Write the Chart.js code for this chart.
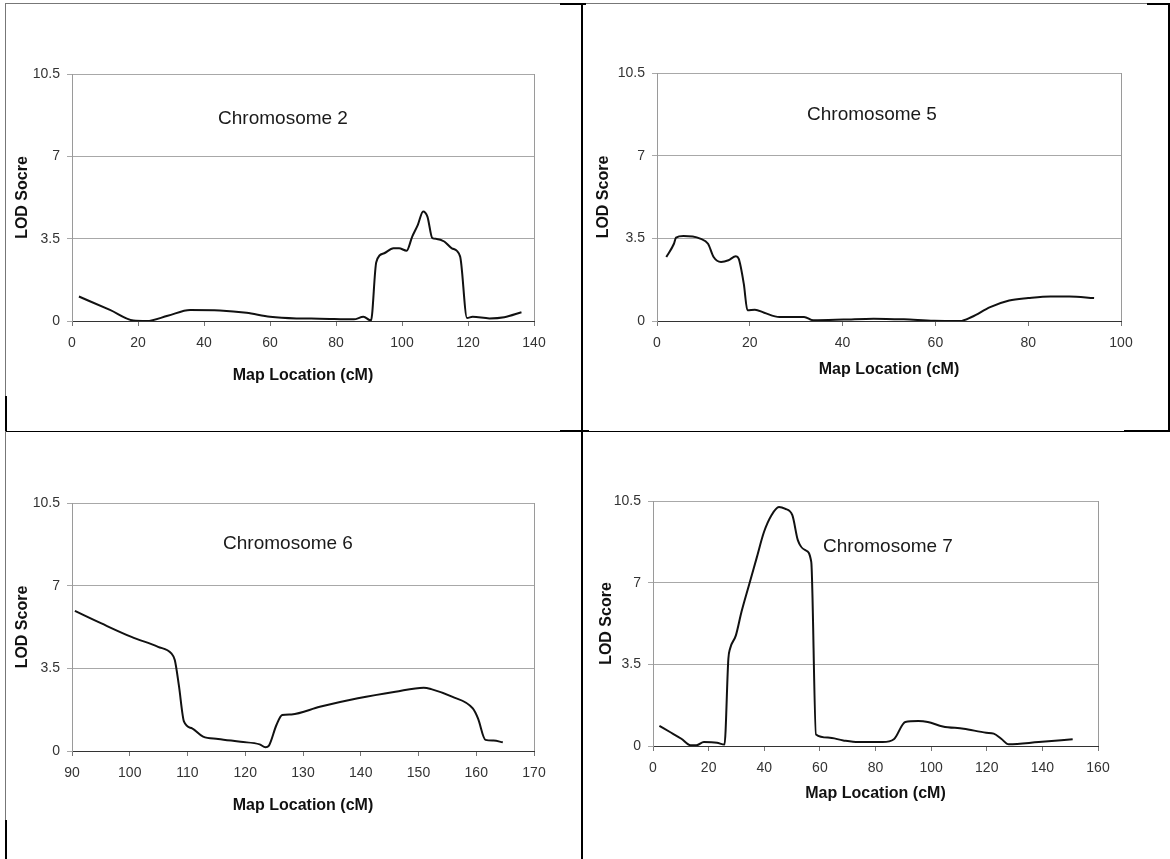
<!DOCTYPE html>
<html><head><meta charset="utf-8">
<script src="https://cdn.jsdelivr.net/npm/chart.js@4.4.1/dist/chart.umd.min.js"></script>
<style>
html,body{margin:0;padding:0;background:#fff;}
#page{position:relative;width:1170px;height:859px;overflow:hidden;font-family:"Liberation Sans",Arial,sans-serif;}
.panel{position:absolute;}
.lbl{position:absolute;font-size:19px;line-height:1;color:#1a1a1a;white-space:nowrap;transform:translate(-50%,-50%);}
.ln{position:absolute;background:#000;}
.gl{position:absolute;background:#777;}
</style></head><body>
<div id="page">
  <canvas id="c2" class="panel" width="583" height="430" style="left:0;top:0"></canvas>
  <canvas id="c5" class="panel" width="587" height="430" style="left:583px;top:0"></canvas>
  <canvas id="c6" class="panel" width="583" height="429" style="left:0;top:430px"></canvas>
  <canvas id="c7" class="panel" width="587" height="429" style="left:583px;top:430px"></canvas>

  <div class="lbl" style="left:283px;top:117px">Chromosome 2</div>
  <div class="lbl" style="left:872px;top:113px">Chromosome 5</div>
  <div class="lbl" style="left:288px;top:542px">Chromosome 6</div>
  <div class="lbl" style="left:888px;top:545px">Chromosome 7</div>

  <!-- table borders -->
  <div class="gl" style="left:6px;top:3px;width:554px;height:1px"></div>
  <div class="ln" style="left:560px;top:3px;width:26px;height:2px"></div>
  <div class="gl" style="left:586px;top:3px;width:561px;height:1px"></div>
  <div class="ln" style="left:1147px;top:3px;width:23px;height:2px"></div>
  <div class="ln" style="left:1168px;top:3px;width:2px;height:428px"></div>
  <div class="gl" style="left:5px;top:3px;width:1px;height:393px"></div>
  <div class="ln" style="left:5px;top:396px;width:2px;height:35px"></div>
  <div class="gl" style="left:5px;top:431px;width:1px;height:389px"></div>
  <div class="ln" style="left:5px;top:820px;width:2px;height:39px"></div>
  <div class="ln" style="left:581px;top:3px;width:2px;height:856px"></div>
  <div class="ln" style="left:6px;top:431px;width:1164px;height:1px"></div>
  <div class="ln" style="left:560px;top:430px;width:29px;height:2px"></div>
  <div class="ln" style="left:1124px;top:430px;width:46px;height:2px"></div>
</div>
<script>
// ---- data ----
const yTicks = [0, 3.5, 7, 10.5];

const chr2X = [2.1, 11.5, 18.6, 22.6, 29, 35.8, 44.8, 52.9, 60, 68, 75, 85.4, 88.3, 90.6, 92.2, 94.6, 97.4, 99.1, 101.4, 103.1, 104.8, 106.4, 107.7, 109.2, 110.5, 112.8, 115.1, 117.6, 119.7, 121.4, 126.5, 131, 136.2];
const chr2Y = [1.04, 0.47, 0.02, 0.0, 0.22, 0.47, 0.45, 0.35, 0.18, 0.11, 0.1, 0.07, 0.18, 0.02, 2.5, 2.88, 3.09, 3.09, 2.99, 3.59, 4.09, 4.66, 4.44, 3.52, 3.49, 3.38, 3.09, 2.75, 0.13, 0.18, 0.11, 0.16, 0.37];
const chr2Ticks = [0, 20, 40, 60, 80, 100, 120, 140];

const chr5X = [2.0, 3.65, 4.1, 5.7, 7.7, 9.3, 11.0, 12.2, 13.8, 15.4, 17.0, 17.6, 18.7, 19.5, 21.1, 23.1, 26.4, 31.7, 33.7, 40.2, 46.7, 53.2, 59.7, 65.3, 67.8, 71.8, 75.9, 80, 84.8, 88.9, 94.2];
const chr5Y = [2.71, 3.27, 3.53, 3.6, 3.58, 3.49, 3.27, 2.71, 2.5, 2.57, 2.74, 2.64, 1.58, 0.45, 0.48, 0.35, 0.17, 0.17, 0.03, 0.06, 0.1, 0.07, 0.01, 0, 0.17, 0.59, 0.87, 0.97, 1.04, 1.04, 0.97];
const chr5Ticks = [0, 20, 40, 60, 80, 100];

const chr6X = [90.5, 95.1, 100.3, 104.9, 107.2, 107.8, 108.5, 109.4, 110.8, 112.7, 115.3, 119.2, 122.5, 123.5, 124.1, 125.4, 126.4, 128, 132.9, 139.5, 146, 150.9, 152.2, 155.8, 159.4, 160.3, 161.6, 163, 164.6];
const chr6Y = [5.93, 5.40, 4.83, 4.41, 4.13, 3.85, 2.79, 1.24, 0.96, 0.61, 0.51, 0.39, 0.28, 0.16, 0.23, 1.10, 1.52, 1.55, 1.87, 2.23, 2.51, 2.68, 2.62, 2.30, 1.80, 1.38, 0.47, 0.44, 0.37];
const chr6Ticks = [90, 100, 110, 120, 130, 140, 150, 160, 170];

const chr7X = [2.3, 6.1, 10.2, 13.5, 15.6, 18.3, 23, 25.7, 27.1, 27.7, 29.8, 31.8, 34.5, 37.2, 39.9, 42.6, 45.3, 47.4, 50.1, 52.1, 54.8, 56.9, 58.6, 62.9, 68.4, 73.8, 82.6, 86.6, 90.7, 95.4, 98.8, 104.2, 111.7, 119.8, 122.5, 125.2, 127.9, 138.7, 150.9];
const chr7Y = [0.86, 0.6, 0.31, 0.03, 0.03, 0.17, 0.14, 0.06, 3.74, 4.17, 4.74, 5.74, 6.89, 8.03, 9.17, 9.89, 10.24, 10.17, 9.89, 8.81, 8.39, 7.89, 0.49, 0.36, 0.24, 0.17, 0.17, 0.29, 1.03, 1.07, 1.03, 0.84, 0.74, 0.57, 0.53, 0.31, 0.07, 0.17, 0.29];
const chr7Ticks = [0, 20, 40, 60, 80, 100, 120, 140, 160];

const xTitle = 'Map Location (cM)';
const yTitles = ['LOD Socre', 'LOD Score', 'LOD Score', 'LOD Score'];

// ---- drawing ----
const FAM = "'Liberation Sans', Arial, Helvetica, sans-serif";
const frame = {
  id: 'frame',
  beforeDatasetsDraw(c) {
    const a = c.chartArea, ctx = c.ctx;
    ctx.save();
    ctx.strokeStyle = '#9a9a9a'; ctx.lineWidth = 1;
    ctx.beginPath();
    ctx.moveTo(Math.round(a.right) + 0.5, a.top);
    ctx.lineTo(Math.round(a.right) + 0.5, a.bottom);
    ctx.stroke();
    ctx.restore();
  }
};

function build(id, xs, ys, xTicks, yTitle, L) {
  const pts = xs.map((x, i) => ({x: x, y: ys[i]}));
  new Chart(document.getElementById(id), {
    type: 'scatter',
    data: {datasets: [{data: pts, showLine: true, borderColor: '#111', borderWidth: 2,
      pointRadius: 0, cubicInterpolationMode: 'monotone', fill: false}]},
    options: {
      responsive: false, animation: false, devicePixelRatio: 1,
      events: [],
      plugins: {legend: {display: false}, tooltip: {enabled: false}},
      layout: {padding: {left: 0, right: L.w - L.right, top: L.top, bottom: L.h - L.xBottom}},
      scales: {
        x: {
          type: 'linear', min: xTicks[0], max: xTicks[xTicks.length - 1],
          afterBuildTicks: s => { s.ticks = xTicks.map(v => ({value: v})); },
          ticks: {font: {size: 14, family: FAM}, color: '#333', padding: 9, maxRotation: 0, autoSkip: false,
                  callback: v => String(v)},
          grid: {drawOnChartArea: false, drawTicks: true, tickLength: 5, color: '#777'},
          border: {color: '#333', width: 1},
          title: {display: true, text: xTitle, font: {size: 16, weight: 'bold', family: FAM}, color: '#111', padding: 0},
          afterFit: s => { s.height = L.xBottom - L.bottom; }
        },
        y: {
          type: 'linear', min: 0, max: 10.5,
          afterBuildTicks: s => { s.ticks = yTicks.map(v => ({value: v})); },
          ticks: {font: {size: 14, family: FAM}, color: '#333', padding: 7, autoSkip: false,
                  callback: v => String(v)},
          grid: {drawOnChartArea: true, drawTicks: true, tickLength: 5, color: '#a8a8a8'},
          border: {color: '#9a9a9a', width: 1},
          title: {display: true, text: yTitle, font: {size: 16, weight: 'bold', family: FAM}, color: '#111',
                  padding: {top: L.yTitleX - 9.6, bottom: 0}},
          afterFit: s => { s.width = L.left; }
        }
      }
    },
    plugins: [frame]
  });
}

build('c2', chr2X, chr2Y, chr2Ticks, yTitles[0], {w: 583, h: 430, left: 72, right: 534, top: 74, bottom: 321, xBottom: 385, yTitleX: 23});
build('c5', chr5X, chr5Y, chr5Ticks, yTitles[1], {w: 587, h: 430, left: 74, right: 538, top: 73, bottom: 321, xBottom: 379, yTitleX: 21});
build('c6', chr6X, chr6Y, chr6Ticks, yTitles[2], {w: 583, h: 429, left: 72, right: 534, top: 73, bottom: 321, xBottom: 385, yTitleX: 23});
build('c7', chr7X, chr7Y, chr7Ticks, yTitles[3], {w: 587, h: 429, left: 70, right: 515, top: 71, bottom: 316, xBottom: 373, yTitleX: 24});
</script>
</body></html>
